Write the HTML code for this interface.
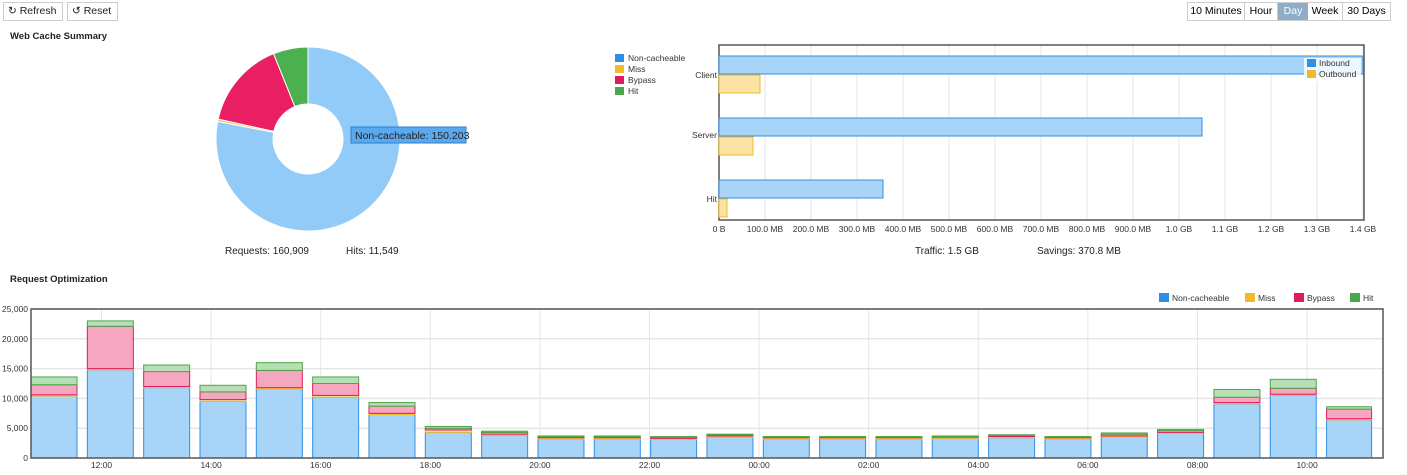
<!DOCTYPE html>
<html><head><meta charset="utf-8"><style>
body{margin:0;width:1407px;height:475px;background:#fff;font-family:"Liberation Sans",sans-serif;overflow:hidden;position:relative}
.btn{position:absolute;top:2px;height:17px;border:1px solid #ccc;font-size:10.5px;line-height:17px;padding:0 4px;color:#222;white-space:nowrap;box-sizing:content-box}
.t{position:absolute;font-size:10px;color:#222;white-space:nowrap}
.grp span{white-space:nowrap}
</style></head><body>
<div class="btn" style="left:3px;width:50px">&#x21bb; Refresh</div>
<div class="btn" style="left:67px;width:41px">&#x21ba; Reset</div>
<div class="grp" style="position:absolute;left:1187px;top:2px;width:202px;height:17px;border:1px solid #ccc;font-size:10.5px;line-height:17px;display:flex;white-space:nowrap">
<span style="width:56px;text-align:center;border-right:1px solid #ccc">10 Minutes</span><span style="width:32px;text-align:center;border-right:1px solid #ccc">Hour</span><span style="width:30px;text-align:center;background:#8fadc6;color:#fff">Day</span><span style="width:34px;text-align:center;border-right:1px solid #ccc">Week</span><span style="width:47px;text-align:center">30 Days</span></div>
<div class="t" style="left:10px;top:31px;font-weight:bold;font-size:9.5px">Web Cache Summary</div>
<div class="t" style="left:10px;top:274px;font-weight:bold;font-size:9.5px">Request Optimization</div>
<div class="t" style="left:225px;top:246px;font-size:10px">Requests: 160,909</div>
<div class="t" style="left:346px;top:246px;font-size:10px">Hits: 11,549</div>
<div class="t" style="left:915px;top:246px;font-size:10px">Traffic: 1.5 GB</div>
<div class="t" style="left:1037px;top:246px;font-size:10px">Savings: 370.8 MB</div>
<svg id="s" width="1407" height="475" style="position:absolute;left:0;top:0" font-family="Liberation Sans, sans-serif"></svg>
<script>
var s='';
function pt(a,r){a=(a-90)*Math.PI/180;return [308+r*Math.cos(a),139+r*Math.sin(a)];}
function sl(a0,a1,c){var R=92,r=35,p0=pt(a0,R),p1=pt(a1,R),q1=pt(a1,r),q0=pt(a0,r),l=(a1-a0)>180?1:0;
s+='<path d="M'+p0+' A'+R+' '+R+' 0 '+l+' 1 '+p1+' L'+q1+' A'+r+' '+r+' 0 '+l+' 0 '+q0+'Z" fill="'+c+'" stroke="#fff" stroke-width="1"/>';}
sl(0,281,'#92cbf8');sl(281,282.5,'#f6c35a');sl(282.5,338,'#e91e63');sl(338,360,'#4caf50');
s+='<rect x="351" y="127" width="115" height="16" fill="#5aa9ef" stroke="#2b7fd0"/><text x="355" y="139" font-size="10.5" fill="#222">Non-cacheable: 150.203</text>';
[['Non-cacheable','#2f8fe6'],['Miss','#f3b929'],['Bypass','#e2195d'],['Hit','#4aa84a']].forEach(function(d,i){var y=54+i*11;
s+='<rect x="615" y="'+y+'" width="9" height="8" fill="'+d[1]+'"/><text x="628" y="'+(y+7)+'" font-size="8.5" fill="#333">'+d[0]+'</text>';});
var X0=719;
for(var i=0;i<=14;i++){var x=X0+i*46;s+='<line x1="'+x+'" y1="45" x2="'+x+'" y2="220" stroke="#e6e6e6"/>';
var lb=i==0?'0 B':(i<10?i*100+'.0 MB':(i/10).toFixed(1)+' GB');s+='<text x="'+x+'" y="232" font-size="8.5" text-anchor="middle" fill="#333">'+lb+'</text>';}
s+='<rect x="719" y="45" width="645" height="175" fill="none" stroke="#555" stroke-width="1.5"/>';
function hb(y,w,c,st){s+='<rect x="719" y="'+y+'" width="'+w+'" height="18" fill="'+c+'" stroke="'+st+'"/>';}
hb(56,644,'#a7d4f7','#2f8fe6');hb(75,41,'#fde3a3','#f3b929');
hb(118,483,'#a7d4f7','#2f8fe6');hb(137,34,'#fde3a3','#f3b929');
hb(180,164,'#a7d4f7','#2f8fe6');hb(199,8,'#fde3a3','#f3b929');
[['Client',78],['Server',138],['Hit',202]].forEach(function(d){s+='<text x="717" y="'+d[1]+'" font-size="8.5" text-anchor="end" fill="#333">'+d[0]+'</text>';});
s+='<rect x="1304" y="58" width="57" height="24" fill="#fff" fill-opacity=".8"/><rect x="1307" y="59" width="9" height="8" fill="#2f8fe6"/><text x="1319" y="66" font-size="8.5" fill="#333">Inbound</text><rect x="1307" y="70" width="9" height="8" fill="#f3b929"/><text x="1319" y="77" font-size="8.5" fill="#333">Outbound</text>';
var L=31,R=1383,T=309,B=458,k=(B-T)/25000;
for(var v=5000;v<=25000;v+=5000){var y=B-v*k;s+='<line x1="'+L+'" y1="'+y+'" x2="'+R+'" y2="'+y+'" stroke="#e6e6e6" stroke-width="1.5"/>';}
for(var v=0;v<=25000;v+=5000){var y=B-v*k;s+='<text x="28" y="'+(y+3)+'" font-size="8.5" text-anchor="end" fill="#333">'+(v?(v/1000)+',000':'0')+'</text>';}
var hrs=['12:00','14:00','16:00','18:00','20:00','22:00','00:00','02:00','04:00','06:00','08:00','10:00'];
hrs.forEach(function(h,i){var x=101.5+i*109.6;s+='<line x1="'+x+'" y1="'+T+'" x2="'+x+'" y2="'+B+'" stroke="#e6e6e6"/><text x="'+x+'" y="468" font-size="8.5" text-anchor="middle" fill="#333">'+h+'</text>';});
var D=[[10400,10600,12300,13600],[14800,15000,22100,23000],[11800,12000,14500,15600],[9500,9800,11100,12200],[11600,11800,14700,16000],[10200,10500,12500,13600],[7300,7500,8700,9300],[4300,4700,5000,5300],[3800,4000,4300,4500],[3200,3400,3600,3700],[3200,3400,3600,3700],[3100,3300,3500,3600],[3500,3700,3900,4000],[3200,3400,3500,3600],[3200,3400,3500,3600],[3200,3400,3500,3600],[3300,3500,3600,3700],[3400,3600,3800,3900],[3200,3400,3500,3600],[3600,3700,4000,4200],[4200,4300,4600,4800],[9100,9300,10200,11500],[10500,10700,11700,13200],[6400,6600,8200,8600]];
var F=['#a7d4f7','#fde3a3','#f5a6c0','#b6dfb6'],S=['#2f8fe6','#f3b929','#e2195d','#4aa84a'];
D.forEach(function(d,i){var x=L+i*56.33,w=46,prev=0;if(i==23)w=45;
for(var j=0;j<4;j++){var y1=B-d[j]*k,y0=B-prev*k;s+='<rect x="'+x+'" y="'+y1+'" width="'+w+'" height="'+(y0-y1)+'" fill="'+F[j]+'" stroke="'+S[j]+'" stroke-width="1"/>';prev=d[j];}});
s+='<rect x="'+L+'" y="'+T+'" width="'+(R-L)+'" height="'+(B-T)+'" fill="none" stroke="#555" stroke-width="1.5"/>';
[['Non-cacheable',1159],['Miss',1245],['Bypass',1294],['Hit',1350]].forEach(function(d,i){s+='<rect x="'+d[1]+'" y="293" width="10" height="9" fill="'+S[i]+'"/><text x="'+(d[1]+13)+'" y="301" font-size="8.5" fill="#333">'+d[0]+'</text>';});
document.getElementById('s').innerHTML=s;
</script>
</body></html>
